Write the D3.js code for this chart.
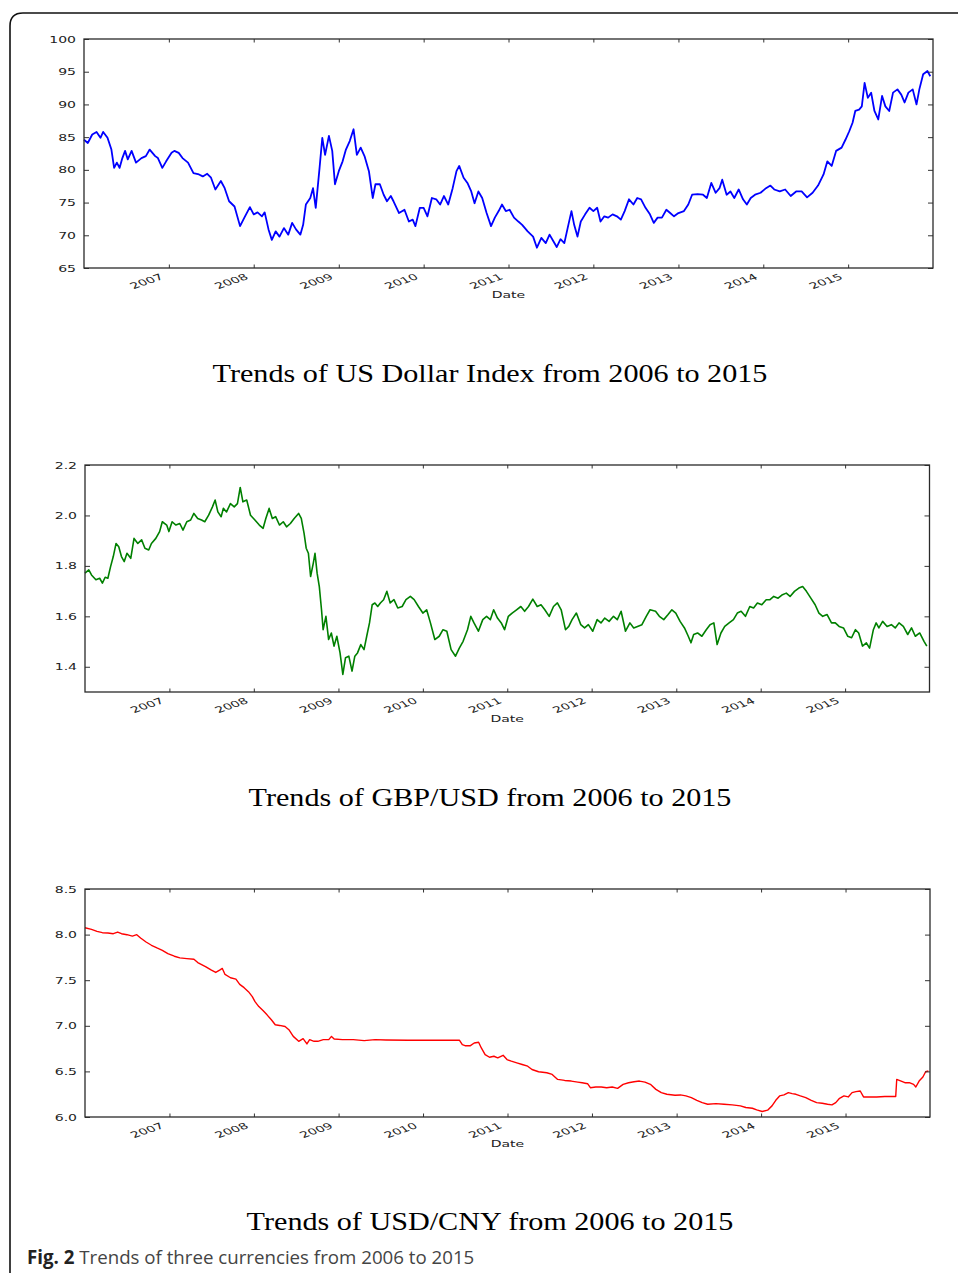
<!DOCTYPE html>
<html>
<head>
<meta charset="utf-8">
<script src="https://cdn.jsdelivr.net/npm/d3@7/dist/d3.min.js"></script>
<style>
  html, body { margin: 0; padding: 0; background: #fff; }
  svg { display: block; }
</style>
</head>
<body>
<svg id="fig" width="958" height="1273"></svg>
<script>
// ---------------- DATA ----------------
// time positions are given in years after 1 Jan 2006
const xTickLabels = ["2007","2008","2009","2010","2011","2012","2013","2014","2015"];

const usdYearOffsets = [0.000,0.045,0.097,0.148,0.194,0.226,0.277,0.323,0.355,0.387,
0.419,0.452,0.484,0.516,0.561,0.613,0.677,0.729,0.774,0.839,
0.871,0.923,0.968,1.032,1.065,1.116,1.161,1.226,1.290,1.355,
1.400,1.452,1.497,1.548,1.613,1.658,1.710,1.774,1.839,1.890,
1.955,2.000,2.045,2.097,2.129,2.174,2.213,2.258,2.303,2.355,
2.406,2.452,2.497,2.548,2.581,2.613,2.665,2.697,2.729,2.774,
2.806,2.839,2.884,2.923,2.955,3.000,3.045,3.084,3.129,3.174,
3.213,3.258,3.303,3.355,3.400,3.432,3.484,3.529,3.568,3.613,
3.645,3.710,3.774,3.826,3.871,3.903,3.955,4.000,4.045,4.097,
4.148,4.194,4.239,4.290,4.342,4.387,4.419,4.471,4.516,4.561,
4.600,4.645,4.690,4.742,4.794,4.839,4.884,4.923,4.968,5.013,
5.065,5.116,5.161,5.226,5.290,5.335,5.387,5.439,5.484,5.529,
5.568,5.613,5.658,5.697,5.742,5.774,5.813,5.852,5.903,5.955,
6.000,6.045,6.084,6.129,6.174,6.226,6.277,6.323,6.368,6.419,
6.471,6.516,6.561,6.613,6.665,6.710,6.755,6.806,6.858,6.903,
6.948,7.000,7.065,7.116,7.161,7.226,7.290,7.335,7.387,7.439,
7.484,7.516,7.568,7.613,7.658,7.710,7.761,7.806,7.852,7.903,
7.968,8.032,8.084,8.129,8.194,8.258,8.323,8.387,8.452,8.516,
8.581,8.645,8.710,8.755,8.806,8.858,8.923,8.968,9.013,9.052,
9.084,9.129,9.161,9.194,9.232,9.271,9.310,9.355,9.400,9.439,
9.484,9.529,9.581,9.626,9.665,9.710,9.761,9.806,9.839,9.884,
9.935,9.968];
const usdValues = [84.6,84.1,85.4,85.8,84.9,85.8,84.9,83.1,80.3,81.1,
80.3,81.8,82.9,81.6,82.9,81.1,81.8,82.1,83.1,82.1,
81.8,80.3,81.3,82.6,82.9,82.6,81.8,81.1,79.5,79.3,
79.0,79.4,78.8,77.0,78.3,77.2,75.2,74.4,71.4,72.7,
74.3,73.2,73.5,72.9,73.5,70.9,69.3,70.6,69.8,71.1,
70.1,71.9,70.9,70.1,71.6,74.7,75.7,77.2,74.2,80.3,
84.9,82.3,85.2,82.9,77.8,79.8,81.3,83.1,84.4,86.2,
82.3,83.4,82.1,79.8,75.7,77.8,77.8,76.2,75.2,76.0,
75.2,73.4,73.9,72.1,72.4,71.4,74.2,74.2,72.9,75.7,
75.5,74.7,76.0,74.7,77.2,79.8,80.6,78.8,78.0,76.7,
74.9,76.7,75.7,73.4,71.4,72.7,73.7,74.7,73.7,73.9,
72.7,72.1,71.6,70.6,69.8,68.1,69.6,68.8,70.1,69.1,
68.2,69.4,68.8,71.1,73.7,71.6,69.8,72.1,73.2,74.2,
73.7,74.2,72.1,72.9,72.7,73.2,72.9,72.4,73.7,75.5,
74.7,75.7,75.5,74.2,73.2,71.9,72.7,72.7,73.9,73.4,
72.9,73.4,73.7,74.7,76.2,76.3,76.2,75.7,78.0,76.5,
77.2,78.5,76.2,76.7,75.7,77.0,75.5,74.7,75.7,76.2,
76.5,77.2,77.6,77.0,76.7,77.0,76.0,76.7,76.7,75.8,
76.5,77.6,79.3,81.3,80.6,82.9,83.4,84.6,85.9,87.2,
89.0,89.2,89.7,93.3,91.0,91.8,89.0,87.7,91.3,89.7,
89.0,91.8,92.3,91.5,90.3,91.8,92.3,90.0,92.3,94.6,
95.1,94.3];

const gbpYearOffsets = [0.000,0.045,0.077,0.129,0.174,0.206,0.239,0.271,0.303,0.335,
0.368,0.400,0.432,0.465,0.497,0.542,0.581,0.626,0.671,0.710,
0.755,0.787,0.839,0.884,0.916,0.968,0.994,1.032,1.077,1.123,
1.161,1.206,1.252,1.290,1.335,1.381,1.419,1.465,1.510,1.542,
1.574,1.613,1.639,1.677,1.723,1.768,1.806,1.839,1.871,1.916,
1.961,2.013,2.065,2.110,2.142,2.181,2.219,2.258,2.303,2.348,
2.387,2.432,2.477,2.529,2.561,2.594,2.619,2.645,2.671,2.703,
2.723,2.748,2.774,2.800,2.819,2.852,2.884,2.916,2.948,2.981,
3.019,3.052,3.084,3.123,3.161,3.194,3.226,3.265,3.303,3.335,
3.368,3.400,3.432,3.465,3.497,3.535,3.574,3.613,3.658,3.703,
3.755,3.800,3.852,3.897,3.948,4.000,4.045,4.090,4.142,4.194,
4.239,4.284,4.335,4.387,4.432,4.477,4.529,4.568,4.606,4.658,
4.710,4.755,4.800,4.839,4.884,4.929,4.968,5.013,5.058,5.110,
5.161,5.206,5.252,5.303,5.355,5.400,5.445,5.497,5.548,5.594,
5.639,5.690,5.729,5.768,5.819,5.871,5.916,5.961,6.013,6.065,
6.110,6.155,6.206,6.258,6.303,6.348,6.400,6.452,6.497,6.542,
6.594,6.645,6.690,6.755,6.800,6.852,6.903,6.948,6.994,7.045,
7.097,7.142,7.174,7.206,7.252,7.303,7.355,7.400,7.445,7.484,
7.529,7.574,7.626,7.677,7.723,7.768,7.819,7.871,7.916,7.961,
8.013,8.065,8.110,8.155,8.206,8.258,8.303,8.348,8.400,8.452,
8.497,8.542,8.594,8.645,8.690,8.735,8.787,8.839,8.884,8.929,
8.981,9.032,9.077,9.123,9.161,9.206,9.252,9.290,9.335,9.368,
9.400,9.445,9.497,9.548,9.594,9.639,9.690,9.742,9.787,9.832,
9.884,9.935,9.968];
const gbpValues = [1.771,1.784,1.764,1.745,1.751,1.732,1.755,1.751,1.797,1.837,
1.889,1.876,1.837,1.817,1.850,1.830,1.909,1.889,1.903,1.870,
1.863,1.889,1.909,1.936,1.975,1.962,1.936,1.975,1.962,1.968,
1.942,1.975,1.982,2.008,1.988,1.982,1.975,2.001,2.034,2.061,
2.014,1.995,2.028,2.014,2.047,2.034,2.047,2.111,2.054,2.061,
2.001,1.982,1.962,1.949,1.988,2.028,1.988,1.995,1.962,1.975,
1.955,1.968,1.988,2.008,1.988,1.929,1.870,1.850,1.758,1.811,
1.850,1.771,1.718,1.626,1.547,1.600,1.508,1.534,1.482,1.521,
1.455,1.370,1.436,1.442,1.383,1.442,1.455,1.488,1.468,1.521,
1.574,1.646,1.653,1.639,1.653,1.666,1.699,1.653,1.666,1.633,
1.639,1.666,1.679,1.666,1.639,1.613,1.626,1.574,1.508,1.521,
1.547,1.541,1.468,1.442,1.474,1.501,1.547,1.600,1.574,1.541,
1.587,1.600,1.587,1.626,1.593,1.574,1.547,1.600,1.613,1.626,
1.639,1.620,1.639,1.668,1.639,1.646,1.626,1.600,1.639,1.653,
1.626,1.547,1.560,1.587,1.613,1.567,1.554,1.567,1.541,1.587,
1.574,1.593,1.580,1.600,1.587,1.620,1.541,1.574,1.554,1.560,
1.567,1.600,1.626,1.620,1.600,1.587,1.607,1.626,1.613,1.580,
1.554,1.521,1.495,1.528,1.534,1.521,1.547,1.567,1.574,1.488,
1.534,1.560,1.574,1.587,1.613,1.620,1.600,1.639,1.633,1.653,
1.646,1.666,1.666,1.679,1.672,1.686,1.692,1.679,1.699,1.712,
1.718,1.699,1.672,1.646,1.613,1.600,1.607,1.574,1.574,1.560,
1.554,1.521,1.515,1.547,1.534,1.482,1.495,1.474,1.547,1.574,
1.554,1.580,1.560,1.567,1.554,1.574,1.560,1.528,1.554,1.521,
1.534,1.501,1.482];

const cnyYearOffsets = [0.000,0.077,0.142,0.206,0.271,0.335,0.387,0.432,0.497,0.561,
0.613,0.658,0.723,0.787,0.852,0.916,0.981,1.058,1.123,1.206,
1.290,1.335,1.381,1.432,1.497,1.548,1.594,1.626,1.658,1.723,
1.787,1.832,1.884,1.935,1.981,2.013,2.058,2.110,2.155,2.206,
2.252,2.303,2.368,2.413,2.465,2.529,2.581,2.626,2.658,2.710,
2.755,2.819,2.884,2.916,2.948,3.045,3.174,3.303,3.432,3.561,
3.819,4.142,4.432,4.465,4.497,4.561,4.606,4.658,4.690,4.735,
4.787,4.839,4.884,4.948,4.994,5.045,5.110,5.174,5.239,5.290,
5.368,5.465,5.529,5.594,5.677,5.755,5.832,5.884,5.948,5.981,
6.045,6.110,6.174,6.239,6.303,6.368,6.432,6.497,6.561,6.626,
6.690,6.755,6.819,6.884,6.981,7.045,7.110,7.174,7.239,7.303,
7.368,7.465,7.561,7.658,7.755,7.819,7.897,7.948,8.013,8.077,
8.129,8.174,8.219,8.271,8.323,8.368,8.413,8.465,8.529,8.594,
8.658,8.723,8.787,8.839,8.884,8.929,8.981,9.032,9.077,9.123,
9.174,9.213,9.271,9.368,9.465,9.594,9.606,9.658,9.703,9.755,
9.806,9.832,9.871,9.916,9.948,9.981];
const cnyValues = [8.075,8.057,8.035,8.021,8.017,8.010,8.028,8.010,7.999,7.984,
7.999,7.963,7.919,7.883,7.854,7.828,7.792,7.763,7.745,7.737,
7.730,7.694,7.672,7.647,7.610,7.585,7.610,7.629,7.563,7.527,
7.512,7.454,7.418,7.374,7.320,7.265,7.211,7.164,7.120,7.066,
7.011,7.004,6.993,6.957,6.884,6.830,6.859,6.801,6.848,6.830,
6.830,6.848,6.848,6.884,6.855,6.848,6.848,6.837,6.848,6.844,
6.841,6.841,6.841,6.793,6.782,6.782,6.812,6.819,6.757,6.684,
6.655,6.666,6.648,6.677,6.630,6.612,6.594,6.576,6.557,6.521,
6.496,6.485,6.467,6.412,6.401,6.394,6.383,6.376,6.365,6.321,
6.329,6.329,6.321,6.329,6.314,6.358,6.376,6.387,6.394,6.383,
6.358,6.303,6.267,6.249,6.238,6.242,6.231,6.212,6.183,6.158,
6.140,6.147,6.140,6.133,6.122,6.104,6.096,6.078,6.060,6.075,
6.122,6.183,6.231,6.242,6.267,6.256,6.249,6.231,6.212,6.183,
6.158,6.151,6.140,6.133,6.158,6.205,6.231,6.220,6.267,6.278,
6.285,6.220,6.220,6.220,6.224,6.224,6.412,6.394,6.376,6.376,
6.358,6.329,6.394,6.438,6.496,6.504];

const usdTicks = [65,70,75,80,85,90,95,100];
const gbpTicks = [1.4,1.6,1.8,2.0,2.2];
const cnyTicks = [6.0,6.5,7.0,7.5,8.0,8.5];

const titles = ["Trends of US Dollar Index from 2006 to 2015",
                "Trends of GBP/USD from 2006 to 2015",
                "Trends of USD/CNY from 2006 to 2015"];
const captionBold = "Fig. 2";
const captionText = " Trends of three currencies from 2006 to 2015";

// ---------------- DRAWING ----------------
const svg = d3.select("#fig");
const SX = 1.65; // horizontal stretch of the chart images

function toDate(offset) {
  const y = 2006 + offset;
  const yr = Math.floor(y + 1e-9);
  const a = new Date(yr, 0, 1), b = new Date(yr + 1, 0, 1);
  return new Date(+a + (y - yr) * (b - a));
}

// page frame
svg.append("path")
  .attr("d", "M10,1290 L10,26 Q10,13 23,13 L975,13")
  .attr("fill", "none").attr("stroke", "#111").attr("stroke-width", 1.6);

const panels = [
  { t: usdYearOffsets, v: usdValues, ticks: usdTicks, dom: [65,100], fmt: d3.format("d"),
    color: "#0000ff", lw: 1.8, box: [84, 933, 39, 268], titleY: 382 },
  { t: gbpYearOffsets, v: gbpValues, ticks: gbpTicks, dom: [1.3,2.2], fmt: d3.format(".1f"),
    color: "#008000", lw: 1.6, box: [85, 929.5, 465, 692], titleY: 806 },
  { t: cnyYearOffsets, v: cnyValues, ticks: cnyTicks, dom: [6.0,8.5], fmt: d3.format(".1f"),
    color: "#ff0000", lw: 1.4, box: [85, 930, 889, 1117], titleY: 1230 }
];

panels.forEach((p, i) => {
  const [L, R, T, B] = p.box;
  const x = d3.scaleTime().domain([new Date(2006,0,1), new Date(2016,0,1)]).range([L, R]);
  const y = d3.scaleLinear().domain(p.dom).range([B, T]);
  const yearTicks = xTickLabels.map(s => new Date(+s, 0, 1));
  const g = svg.append("g");

  // line
  const data = p.t.map((o, k) => ({ d: toDate(o), v: p.v[k] }));
  g.append("path").datum(data)
    .attr("fill", "none").attr("stroke", p.color).attr("stroke-width", p.lw)
    .attr("stroke-linejoin", "round")
    .attr("d", d3.line().x(d => x(d.d)).y(d => y(d.v)));

  const tickStyle = sel => {
    sel.select(".domain").remove();
    sel.selectAll(".tick line").attr("stroke", "#333").attr("stroke-width", 1);
  };

  // left axis
  const ax = g.append("g").attr("transform", `translate(${L},0)`)
    .call(d3.axisLeft(y).tickValues(p.ticks).tickFormat(p.fmt).tickSize(-5));
  tickStyle(ax);
  ax.selectAll(".tick text")
    .attr("x", -8 / SX).attr("dy", "0.36em")
    .attr("transform", `scale(${SX},1)`)
    .attr("font-family", "DejaVu Sans").attr("font-size", 8.5).attr("fill", "#222")
    .attr("text-anchor", "end");

  // right axis (ticks only)
  const ar = g.append("g").attr("transform", `translate(${R},0)`)
    .call(d3.axisRight(y).tickValues(p.ticks).tickFormat("").tickSize(-5));
  tickStyle(ar);

  // bottom axis
  const ab = g.append("g").attr("transform", `translate(0,${B})`)
    .call(d3.axisBottom(x).tickValues(yearTicks).tickFormat(d3.timeFormat("%Y")).tickSize(-3.5));
  tickStyle(ab);
  ab.selectAll(".tick text")
    .attr("x", 0).attr("y", 0).attr("dy", 0)
    .attr("transform", `translate(-5,10.5) scale(${SX},1) rotate(-30)`)
    .attr("text-anchor", "end")
    .attr("font-family", "DejaVu Sans").attr("font-size", 8.5).attr("fill", "#222");

  // top axis (ticks only)
  const at = g.append("g").attr("transform", `translate(0,${T})`)
    .call(d3.axisTop(x).tickValues(yearTicks).tickFormat("").tickSize(-3.5));
  tickStyle(at);

  // frame
  g.append("rect").attr("x", L).attr("y", T).attr("width", R - L).attr("height", B - T)
    .attr("fill", "none").attr("stroke", "#2a2a2a").attr("stroke-width", 1.3);

  // "Date" label
  g.append("text")
    .attr("transform", `translate(${(L + R) / 2},${B + 30}) scale(${SX},1)`)
    .attr("text-anchor", "middle")
    .attr("font-family", "DejaVu Sans").attr("font-size", 8.5).attr("fill", "#222")
    .text("Date");

  // title
  svg.append("text")
    .attr("transform", `translate(490,${p.titleY}) scale(1.16,1)`)
    .attr("text-anchor", "middle")
    .attr("font-family", "Liberation Serif").attr("font-size", 26).attr("fill", "#000")
    .text(titles[i]);
});

// caption
const cap = svg.append("text").attr("x", 27).attr("y", 1264)
  .attr("font-family", "Open Sans").attr("font-size", 18.7);
cap.append("tspan").attr("font-weight", "bold").attr("fill", "#222").text(captionBold);
cap.append("tspan").attr("fill", "#444").text(captionText);
</script>
</body>
</html>
